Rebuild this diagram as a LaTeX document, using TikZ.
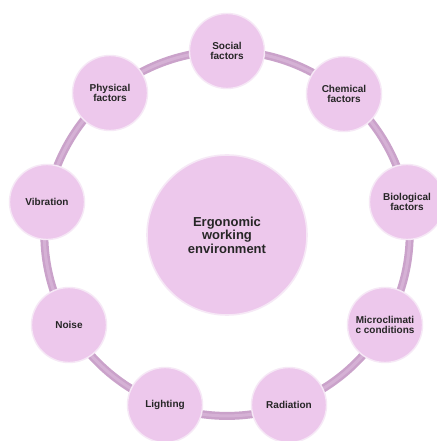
\documentclass[tikz,border=0pt]{standalone}
\usepackage{fontspec}
\setmainfont{Liberation Sans}
\definecolor{pinkfill}{RGB}{237,200,236}
\definecolor{ringcol}{RGB}{202,162,202}
\definecolor{ringlight}{RGB}{213,177,213}
\definecolor{rimcol}{RGB}{246,232,246}
\tikzset{
  outer/.style={circle, minimum size=75pt, inner sep=1pt, fill=pinkfill, draw=rimcol, line width=1.4pt,
    align=center, font=\fontsize{10}{10.2}\selectfont\bfseries, text=black!85},
  hub/.style={circle, minimum size=160pt, fill=pinkfill, draw=rimcol, line width=1.6pt,
    align=center, font=\fontsize{13}{13.5}\selectfont\bfseries, text=black!85},
  ringseg/.style={draw=ringcol, line width=8pt, bend left=20, looseness=0.88},
  ringhi/.style={draw=ringlight, line width=3pt, bend left=20, looseness=0.88}
}
\begin{document}
\begin{tikzpicture}[x=1pt,y=1pt]
\useasboundingbox (0,0) rectangle (436,441);
\fill[white] (0,0) rectangle (436,441);
% positions
\coordinate (pS) at (227,390);
\coordinate (pC) at (344,347);
\coordinate (pB) at (407,239);
\coordinate (pM) at (385,116);
\coordinate (pR) at (289,36);
\coordinate (pL) at (165,36);
\coordinate (pN) at (69,116);
\coordinate (pV) at (47,239);
\coordinate (pP) at (110,348);
% ring connectors (drawn first, circles cover ends)
\foreach \a/\b in {pS/pC,pC/pB,pB/pM,pM/pR,pR/pL,pL/pN,pN/pV,pV/pP,pP/pS}{
  \draw[ringseg] (\a) to (\b);
  \draw[ringhi] (\a) to (\b);
}
% nodes
\node[outer] (social) at (pS) {Social\\factors};
\node[outer] (chemical) at (pC) {Chemical\\factors};
\node[outer] (biological) at (pB) {Biological\\factors};
\node[outer] (micro) at (pM) {Microclimati\\c conditions};
\node[outer] (radiation) at (pR) {Radiation};
\node[outer] (lighting) at (pL) {Lighting};
\node[outer] (noise) at (pN) {Noise};
\node[outer] (vibration) at (pV) {Vibration};
\node[outer] (physical) at (pP) {Physical\\factors};
\node[hub] (center) at (227,206) {Ergonomic\\working\\environment};
\end{tikzpicture}
\end{document}
